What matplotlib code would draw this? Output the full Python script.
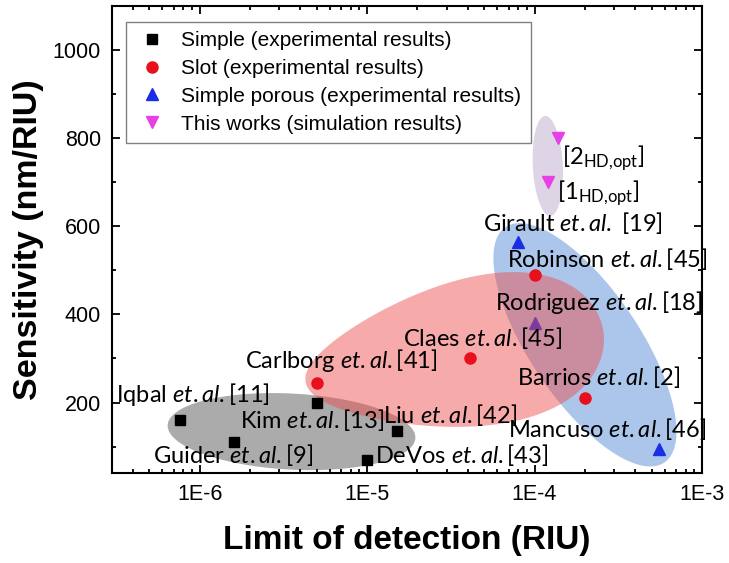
import numpy as np
import matplotlib
matplotlib.use('Agg')
import matplotlib.pyplot as plt

plt.rcParams['font.family'] = 'Liberation Sans'
plt.rcParams['mathtext.fontset'] = 'custom'
plt.rcParams['mathtext.rm'] = 'Lato'
plt.rcParams['mathtext.it'] = 'Lato:italic'

# dati (LOD in RIU, sensibilita in nm/RIU)
simple_x = [7.6e-7, 1.6e-6, 5.0e-6, 1.5e-5, 1.0e-5]
simple_y = [160, 110, 200, 135, 70]
simple_lab = ['Iqbal', 'Guider', 'Kim', 'Liu', 'DeVos']
simple_ref = ['[11]', '[9]', '[13]', '[42]', '[43]']

slot_x = [5.0e-6, 4.1e-5, 1.0e-4, 2.0e-4]
slot_y = [245, 300, 490, 210]
slot_lab = ['Carlborg', 'Claes', 'Robinson', 'Barrios']
slot_ref = ['[41]', '[45]', '[45]', '[2]']

porous_x = [8.0e-5, 1.0e-4, 5.5e-4]
porous_y = [565, 380, 95]
porous_lab = ['Girault', 'Rodriguez', 'Mancuso']
porous_ref = [' [19]', '[18]', '[46]']

sim_x = [1.39e-4, 1.21e-4]
sim_y = [800, 700]
sim_lab = ['2', '1']

# posizione delle etichette (bordo sinistro, centro verticale)
simple_txt = [(3.16e-7, 218), (5.3e-7, 80), (1.75e-6, 160), (1.25e-5, 172), (1.12e-5, 80)]
slot_txt = [(1.88e-6, 295), (1.63e-5, 347), (6.87e-5, 525), (7.87e-5, 259)]
porous_txt = [(4.93e-5, 607), (5.82e-5, 426), (6.97e-5, 139)]
sim_txt = [(1.46e-4, 755), (1.36e-4, 675)]

fig = plt.figure(figsize=(7.29, 5.63), dpi=100)
ax = fig.add_axes([112/729, 1-473/563, 590/729, 467/563])
ax.set_xscale('log')
ax.set_xlim(3e-7, 1e-3)
ax.set_ylim(40, 1100)


def ellisse(xc, yc, a, b, ang, e=0.0, **kw):
    # forma ellittica (o a uovo se e>0) disegnata in pixel, a e b in pollici
    cx, cy = ax.transData.transform((xc, yc))
    t = np.linspace(0, 2*np.pi, 300)
    r = np.radians(ang)
    px = a*fig.dpi*np.cos(t)
    py = b*fig.dpi*np.sin(t)*(1 + e*np.cos(t))
    dx = cx + px*np.cos(r) - py*np.sin(r)
    dy = cy + px*np.sin(r) + py*np.cos(r)
    pts = ax.transData.inverted().transform(np.column_stack([dx, dy]))
    ax.fill(pts[:, 0], pts[:, 1], lw=0, **kw)


ellisse(3.54e-6, 134, 1.24, 0.38, -3, color='#6e6e6e', alpha=0.58, zorder=1)
ellisse(2.0e-4, 331, 1.42, 0.55, -56, color='#4682d2', alpha=0.45, zorder=1)
ax.plot(porous_x, porous_y, '^', color='#1a2ee6', ms=9, ls='none', zorder=2,
        label='Simple porous (experimental results)')
ellisse(3.32e-5, 306, 1.51, 0.72, 10, e=0.3, color='#ee4b4b', alpha=0.47, zorder=3)
ellisse(1.2e-4, 737, 0.50, 0.15, 93, color='#b4a0c8', alpha=0.45, zorder=3)
ax.plot(simple_x, simple_y, 's', color='black', ms=7.5, ls='none', zorder=4,
        label='Simple (experimental results)')
ax.plot(slot_x, slot_y, 'o', color='#e8101c', ms=8, ls='none', zorder=4,
        label='Slot (experimental results)')
ax.plot(sim_x, sim_y, 'v', color='#e640e6', ms=9, ls='none', zorder=4,
        label='This works (simulation results)')

tk = dict(fontsize=17, va='center', ha='left', family='Lato', zorder=5)
for n, r, p in zip(simple_lab + slot_lab + porous_lab,
                   simple_ref + slot_ref + porous_ref,
                   simple_txt + slot_txt + porous_txt):
    ax.text(p[0], p[1], n + r' $\mathit{et.al.}$' + r, **tk)
for n, p in zip(sim_lab, sim_txt):
    ax.text(p[0], p[1], '[' + n + r'$_{\mathrm{HD{,}opt}}$]', **tk)

h, l = ax.get_legend_handles_labels()
ordine = [1, 2, 0, 3]
leg = ax.legend([h[i] for i in ordine], [l[i] for i in ordine], loc='upper left',
                bbox_to_anchor=(0.024, 0.966), borderaxespad=0, fontsize=15,
                fancybox=False, edgecolor='#808080', framealpha=1,
                labelspacing=0.42, handlelength=1.6, handletextpad=0.6, borderpad=0.45)
leg.get_frame().set_linewidth(1)

ax.set_yticks([200, 400, 600, 800, 1000])
ax.set_yticks(np.arange(100, 1100, 100), minor=True)
ax.set_xticks([1e-6, 1e-5, 1e-4, 1e-3])
ax.set_xticklabels(['1E-6', '1E-5', '1E-4', '1E-3'])
ax.tick_params(which='both', direction='in', top=True, right=True, labelsize=15.5, width=1.3)
ax.tick_params(which='major', length=6, pad=8)
ax.tick_params(which='minor', length=3)
for s in ax.spines.values():
    s.set_linewidth(1.5)

ax.set_xlabel('Limit of detection (RIU)', fontsize=24, fontweight='bold', labelpad=14)
ax.set_ylabel('Sensitivity (nm/RIU)', fontsize=24.5, fontweight='bold', labelpad=6)

plt.savefig('out.png', dpi=100)
